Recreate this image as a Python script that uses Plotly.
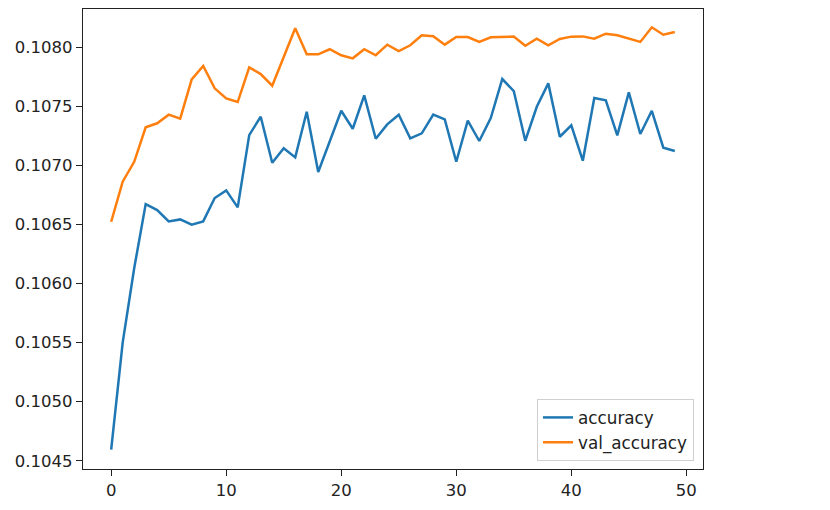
import plotly.graph_objects as go

epochs = list(range(50))

accuracy = [
    0.104595, 0.10550, 0.10613, 0.106674, 0.106623, 0.106527, 0.106544, 0.106499, 0.106527, 0.106725,
    0.106790, 0.106646, 0.107258, 0.107414, 0.107024, 0.107146, 0.107069, 0.107456, 0.106945, 0.107202,
    0.107464, 0.107312, 0.107595, 0.107227, 0.107349, 0.107431, 0.107230, 0.107273, 0.107431, 0.107391,
    0.107032, 0.107380, 0.107208, 0.107402, 0.107733, 0.107631, 0.107210, 0.107498, 0.107696, 0.107244,
    0.107341, 0.107041, 0.107572, 0.107552, 0.107256, 0.107620, 0.107267, 0.107464, 0.107151, 0.107123,
]

val_accuracy = [
    0.106524, 0.106863, 0.107032, 0.107324, 0.107358, 0.107431, 0.107397, 0.107730, 0.107843, 0.107654,
    0.107569, 0.107538, 0.107832, 0.107775, 0.107676, 0.107914, 0.108163, 0.107942, 0.107942, 0.107985,
    0.107934, 0.107908, 0.107985, 0.107934, 0.108024, 0.107970, 0.108019, 0.108103, 0.108095, 0.108024,
    0.108089, 0.108089, 0.108047, 0.108086, 0.108090, 0.108092, 0.108015, 0.108075, 0.108019, 0.108072,
    0.108092, 0.108094, 0.108075, 0.108117, 0.108103, 0.108078, 0.108047, 0.108171, 0.108108, 0.108131,
]

fig = go.Figure()
fig.add_trace(go.Scatter(x=epochs, y=accuracy, mode="lines", name="accuracy",
                         line=dict(color="#1f77b4", width=2.5)))
fig.add_trace(go.Scatter(x=epochs, y=val_accuracy, mode="lines", name="val_accuracy",
                         line=dict(color="#ff7f0e", width=2.5)))

axis_style = dict(showline=True, linecolor="#222", linewidth=1.3, mirror=True,
                  ticks="outside", ticklen=6, tickwidth=1.3, tickcolor="#222",
                  showgrid=False, zeroline=False,
                  tickfont=dict(family="DejaVu Sans", size=16.5, color="#222"))

fig.update_xaxes(range=[-2.45, 51.45], tickvals=[0, 10, 20, 30, 40, 50], **axis_style)
fig.update_yaxes(range=[0.10443, 0.108326], dtick=0.0005, tick0=0.1045,
                 tickformat=".4f", **axis_style)

# page body has an 8px margin, so the figure is sized a bit smaller
fig.update_layout(
    width=822, height=502,
    margin=dict(l=75, r=127, t=1, b=41),
    plot_bgcolor="white", paper_bgcolor="white",
    font=dict(family="DejaVu Sans", color="#222"),
    legend=dict(x=0.9855, y=0.0174, xanchor="right", yanchor="bottom",
                bordercolor="#d0d0d0", borderwidth=1, bgcolor="white",
                font=dict(size=16.8), tracegroupgap=0),
)

fig.write_html("out.html")
